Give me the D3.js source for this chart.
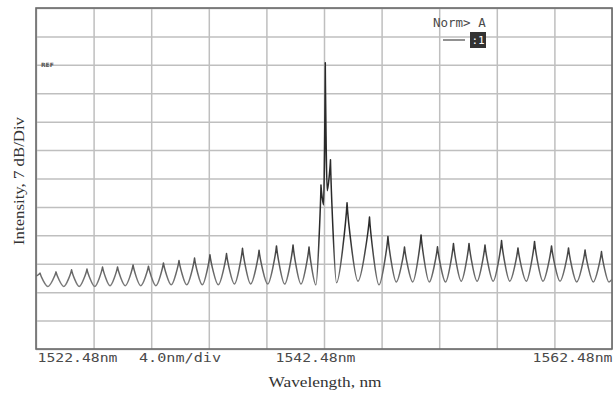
<!DOCTYPE html>
<html><head><meta charset="utf-8">
<script src="https://cdn.jsdelivr.net/npm/d3@7"></script>
<style>html,body{margin:0;padding:0;background:#fff;} svg{display:block}</style>
</head><body>
<svg id="chart" width="613" height="400"></svg>
<script>
// ---- data ----
const wavelengthTicks = [1522.48, 1542.48, 1562.48];
const gridNm = [1522.48, 1526.48, 1530.48, 1534.48, 1538.48, 1542.48, 1546.48, 1550.48, 1554.48, 1558.48, 1562.48];
const gridDb = [0, -7, -14, -21, -28, -35, -42, -49, -56, -63, -70, -77, -84];
const traceNm = [
  1522.48, 1522.76, 1523.31, 1523.87, 1524.41, 1524.95, 1525.48, 1526.02, 1526.56, 1527.10,
  1527.62, 1528.14, 1528.68, 1529.22, 1529.75, 1530.29, 1530.81, 1531.33, 1531.87, 1532.41,
  1532.95, 1533.49, 1534.03, 1534.56, 1535.14, 1535.71, 1536.26, 1536.82, 1537.39, 1537.97,
  1538.57, 1539.18, 1539.75, 1540.33, 1540.88, 1541.44, 1541.92, 1542.27, 1542.45, 1542.57,
  1542.70, 1542.93, 1543.35, 1544.08, 1544.84, 1545.64, 1546.30, 1546.92, 1547.50, 1548.07,
  1548.64, 1549.22, 1549.79, 1550.36, 1550.92, 1551.47, 1552.01, 1552.55, 1553.11, 1553.66,
  1554.23, 1554.81, 1555.38, 1555.95, 1556.53, 1557.10, 1557.69, 1558.28, 1558.87, 1559.46,
  1560.03, 1560.61, 1561.18, 1561.75, 1562.27, 1562.48
];
const traceDb = [
  -66.0, -65.3, -68.6, -65.0, -68.6, -64.5, -68.6, -64.3, -68.6, -63.8,
  -68.4, -63.8, -68.4, -63.3, -68.4, -63.6, -68.4, -62.8, -68.2, -62.2,
  -68.2, -61.6, -68.2, -60.8, -68.2, -60.5, -68.0, -59.2, -68.0, -59.7,
  -68.0, -58.6, -68.0, -58.4, -68.0, -58.9, -68.2, -43.6, -48.5, -13.5,
  -45.0, -37.4, -67.7, -48.0, -67.3, -51.5, -68.2, -56.3, -67.5, -58.9,
  -67.5, -55.9, -67.5, -58.8, -67.5, -58.0, -67.3, -58.0, -67.3, -58.4,
  -67.3, -57.3, -67.3, -59.1, -67.3, -57.5, -67.3, -58.6, -67.3, -59.1,
  -67.5, -59.6, -67.5, -60.0, -67.5, -66.8
];

// ---- layout ----
const svg = d3.select("#chart");
const W = 613, H = 400;
const m = {left: 36, right: 1, top: 8, bottom: 51};
const x = d3.scaleLinear().domain([1522.48, 1562.48]).range([m.left, W - m.right]);
const y = d3.scaleLinear().domain([-84, 0]).range([H - m.bottom, m.top]);

svg.append("rect").attr("width", W).attr("height", H).attr("fill", "#fff");

// grid
const gx = svg.append("g").attr("transform", `translate(0,${m.top})`)
  .call(d3.axisBottom(x).tickValues(gridNm).tickSize(y(-84) - y(0)).tickFormat(""));
gx.select(".domain").remove();
gx.selectAll("line").attr("stroke", "#bfbfbf").attr("stroke-width", 1.5);

const gy = svg.append("g").attr("transform", `translate(${m.left},0)`)
  .call(d3.axisRight(y).tickValues(gridDb).tickSize(x(1562.48) - x(1522.48)).tickFormat(""));
gy.select(".domain").remove();
gy.selectAll("line").attr("stroke", "#bfbfbf").attr("stroke-width", 1.5);

// frame
svg.append("rect")
  .attr("x", x(1522.48)).attr("y", y(0))
  .attr("width", x(1562.48) - x(1522.48)).attr("height", y(-84) - y(0))
  .attr("fill", "none").attr("stroke", "#6a6a6a").attr("stroke-width", 1.6);

// trace: sharp peaks, rounded valleys
function curvePeaky(context) {
  let x0, y0, started = false;
  return {
    areaStart() {}, areaEnd() {},
    lineStart() { started = false; },
    lineEnd() {},
    point(px, py) {
      px = +px; py = +py;
      if (!started) { context.moveTo(px, py); started = true; }
      else {
        const dx = px - x0;
        if (py > y0) {
          context.bezierCurveTo(x0 + dx * 0.08, y0 + (py - y0) * 0.2, px - dx * 0.3, py, px, py);
        } else {
          context.bezierCurveTo(x0 + dx * 0.3, y0, px - dx * 0.08, py + (y0 - py) * 0.2, px, py);
        }
      }
      x0 = px; y0 = py;
    }
  };
}

const defs = svg.append("defs");
const grad = defs.append("linearGradient").attr("id", "tr")
  .attr("gradientUnits", "userSpaceOnUse")
  .attr("x1", 0).attr("x2", 0).attr("y1", y(-56)).attr("y2", y(-69));
grad.append("stop").attr("offset", 0).attr("stop-color", "#2a2a2a");
grad.append("stop").attr("offset", 1).attr("stop-color", "#808080");

const pts = traceNm.map((d, i) => [d, traceDb[i]]);
svg.append("path").datum(pts)
  .attr("fill", "none").attr("stroke", "url(#tr)").attr("stroke-width", 1.5)
  .attr("stroke-linejoin", "round")
  .attr("d", d3.line().x(d => x(d[0])).y(d => y(d[1])).curve(curvePeaky));

// x tick labels
const ax = svg.append("g").attr("transform", `translate(0,${y(-84)})`)
  .call(d3.axisBottom(x).tickValues(wavelengthTicks).tickSize(0).tickPadding(4)
    .tickFormat(d => d.toFixed(2) + "nm"));
ax.select(".domain").remove();
ax.selectAll("text")
  .attr("font-family", "DejaVu Sans Mono").attr("font-size", 12.5).attr("fill", "#4a4a4a")
  .attr("textLength", 80).attr("lengthAdjust", "spacingAndGlyphs")
  .attr("text-anchor", (d, i) => i === 0 ? "start" : i === 2 ? "end" : "middle")
  .attr("dx", (d, i) => i === 0 ? 1 : i === 2 ? 0 : -9);

svg.append("text").attr("x", 139).attr("y", 362)
  .attr("font-family", "DejaVu Sans Mono").attr("font-size", 12.5).attr("fill", "#4a4a4a")
  .attr("textLength", 82).attr("lengthAdjust", "spacingAndGlyphs")
  .text("4.0nm/div");

// axis titles
svg.append("text").attr("x", 325).attr("y", 387).attr("text-anchor", "middle")
  .attr("font-family", "Liberation Serif").attr("font-size", 15).attr("fill", "#333")
  .attr("textLength", 113).attr("lengthAdjust", "spacingAndGlyphs")
  .text("Wavelength, nm");

svg.append("text").attr("transform", "translate(24,181) rotate(-90)").attr("text-anchor", "middle")
  .attr("font-family", "Liberation Serif").attr("font-size", 15).attr("fill", "#333")
  .attr("textLength", 128).attr("lengthAdjust", "spacingAndGlyphs")
  .text("Intensity, 7 dB/Div");

// annotations
svg.append("text").attr("x", 41).attr("y", 67)
  .attr("font-family", "DejaVu Sans").attr("font-size", 6).attr("font-weight", "bold").attr("fill", "#555")
  .text("REF");

svg.append("text").attr("x", 433).attr("y", 27)
  .attr("font-family", "DejaVu Sans Mono").attr("font-size", 12.5).attr("fill", "#4a4a4a")
  .text("Norm> A");

svg.append("line").attr("x1", 443).attr("x2", 465).attr("y1", 40).attr("y2", 40)
  .attr("stroke", "#555").attr("stroke-width", 1.3);
svg.append("rect").attr("x", 470).attr("y", 32).attr("width", 16).attr("height", 16).attr("fill", "#333");
svg.append("text").attr("x", 478).attr("y", 44).attr("text-anchor", "middle")
  .attr("font-family", "DejaVu Sans Mono").attr("font-size", 11).attr("fill", "#fff")
  .text(":1");
</script>
</body></html>
